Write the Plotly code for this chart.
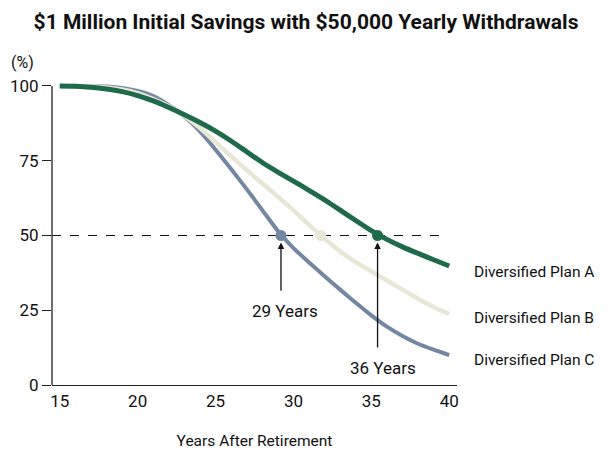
import plotly.graph_objects as go

# Share of portfolios still holding money (%), by years after retirement
years = list(range(15, 41))
plan_a = [100, 99.9, 99.6, 99.0, 98.1, 96.8, 95.0, 92.8, 90.4, 87.8, 84.9, 81.6, 78.0,
          74.4, 71.2, 68.2, 65.1, 61.9, 58.5, 55.0, 51.6, 48.7, 46.2, 44.0, 41.9, 39.8]
plan_b = [100, 100, 99.9, 99.5, 98.8, 97.6, 95.6, 93.2, 90.0, 85.9, 81.2, 76.5, 71.9,
          67.4, 63.0, 58.4, 53.6, 48.9, 44.7, 41.1, 38.0, 35.0, 31.9, 28.8, 26.1, 23.7]
plan_c = [100, 100, 100, 99.8, 99.3, 98.3, 96.6, 93.6, 89.8, 84.8, 78.7, 72.2, 65.5,
          58.5, 51.5, 45.8, 41.0, 36.4, 31.9, 27.5, 23.3, 19.5, 16.4, 13.8, 11.8, 10.0]
plan_names = ["Diversified Plan A", "Diversified Plan B", "Diversified Plan C"]
plan_colors = ["#1f6a4b", "#e8e7d6", "#7387a3"]
plan_widths = [5, 4.5, 4]
label_y = [37.8, 22.4, 8.4]

# Points where each plan crosses 50%
cross_x = [35.4, 31.75, 29.2]
cross_y = 50

x_ticks = [15, 20, 25, 30, 35, 40]
y_ticks = [0, 25, 50, 75, 100]

FONT = "Roboto, Liberation Sans, sans-serif"

fig = go.Figure()

series = [plan_a, plan_b, plan_c]
# draw C first, then B, then A so green sits on top
for i in [2, 1, 0]:
    fig.add_trace(go.Scatter(
        x=years, y=series[i], mode="lines",
        line=dict(color=plan_colors[i], width=plan_widths[i], shape="spline", smoothing=0.5),
        hoverinfo="skip", showlegend=False,
    ))

for i in [2, 1, 0]:
    fig.add_trace(go.Scatter(
        x=[cross_x[i]], y=[cross_y], mode="markers",
        marker=dict(color=plan_colors[i], size=11),
        hoverinfo="skip", showlegend=False, cliponaxis=False,
    ))

# dashed 50% reference line
fig.add_shape(type="line", x0=14.5, x1=39.6, y0=50, y1=50, xref="x", yref="y",
              line=dict(color="#111", width=1.2, dash="dash"), layer="below")
# y axis line
fig.add_shape(type="line", x0=0, x1=0, y0=0, y1=100, xref="paper", yref="y",
              line=dict(color="#222", width=1.3))

# arrows
fig.add_annotation(x=29.2, y=50, ax=29.2, ay=31, xref="x", yref="y", axref="x", ayref="y",
                   text="", showarrow=True, arrowhead=2, arrowsize=1, arrowwidth=1.3,
                   arrowcolor="#111", standoff=7)
fig.add_annotation(x=35.4, y=50, ax=35.4, ay=12, xref="x", yref="y", axref="x", ayref="y",
                   text="", showarrow=True, arrowhead=2, arrowsize=1, arrowwidth=1.3,
                   arrowcolor="#111", standoff=7)
fig.add_annotation(x=29.45, y=24.7, text="29 Years", showarrow=False,
                   font=dict(size=17, color="#111", family=FONT))
fig.add_annotation(x=35.75, y=5.7, text="36 Years", showarrow=False,
                   font=dict(size=17, color="#111", family=FONT))

for name, ly in zip(plan_names, label_y):
    fig.add_annotation(x=1.037, y=ly, xref="paper", yref="y", text=name,
                       showarrow=False, xanchor="left",
                       font=dict(size=15.5, color="#111", family=FONT))

fig.add_annotation(x=-0.074, y=1.059, xref="paper", yref="paper", yanchor="middle",
                   text="(%)", showarrow=False, xanchor="center",
                   font=dict(size=16, color="#111", family=FONT))

# page body adds an 8px offset, so the figure is 8px smaller than the window
fig.update_layout(
    width=604, height=442,
    margin=dict(l=44, r=155, t=72, b=65),
    paper_bgcolor="white", plot_bgcolor="white",
    font=dict(family=FONT, color="#111", size=17),
    title=dict(text="<b>$1 Million Initial Savings with $50,000 Yearly Withdrawals</b>",
               x=0.4934, xanchor="center", y=0.968, yanchor="middle",
               font=dict(size=21, family=FONT, color="#111")),
    showlegend=False,
)
fig.update_xaxes(range=[14.5, 40.5], tickvals=x_ticks, showgrid=False, zeroline=False,
                 showline=True, linecolor="#222", linewidth=1.3, ticks="",
                 title=dict(text="Years After Retirement", font=dict(size=15.5), standoff=26),
                 automargin=False, fixedrange=True)
fig.update_yaxes(range=[0, 102], tickvals=y_ticks, showgrid=False, zeroline=False,
                 showline=False, ticks="outside", ticklen=9, tickcolor="#222", tickwidth=1.3,
                 automargin=False, fixedrange=True)

fig.write_html("out.html", config={"displayModeBar": False})
